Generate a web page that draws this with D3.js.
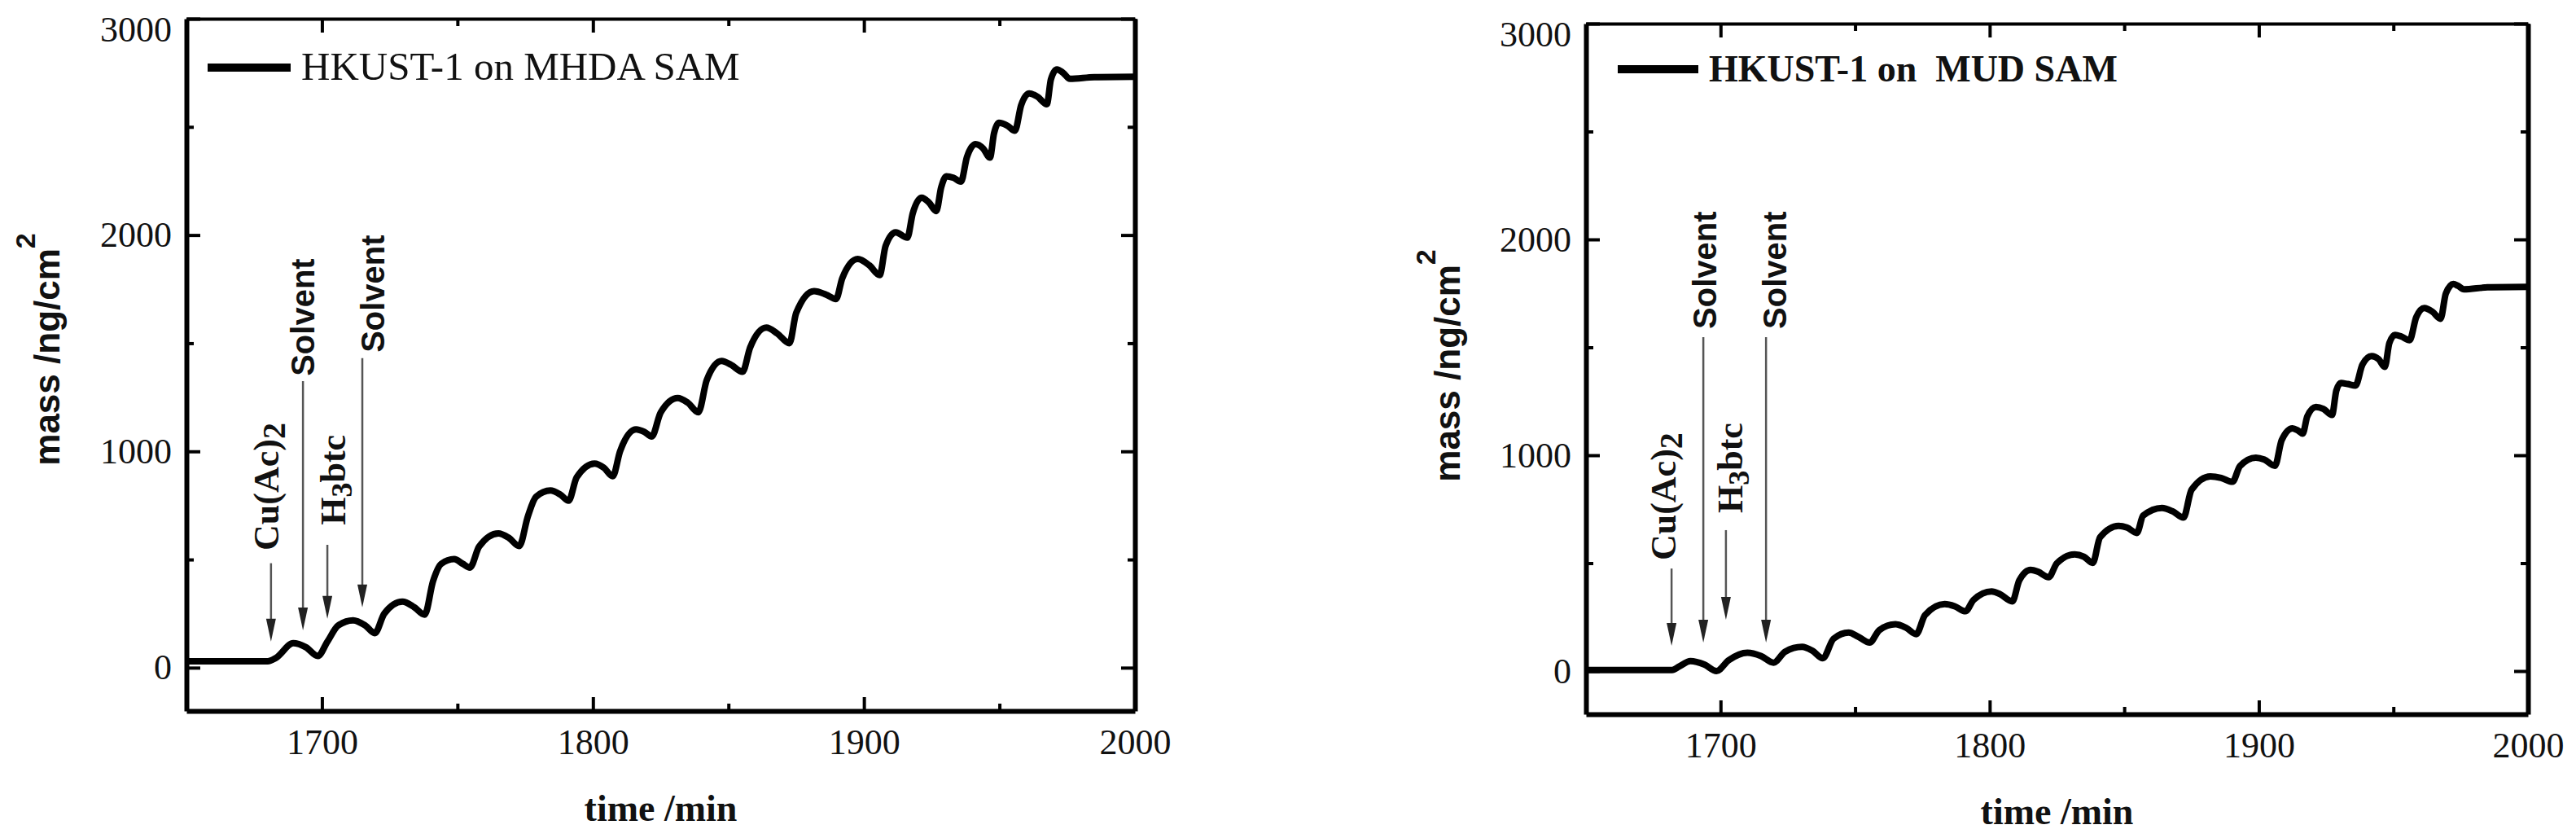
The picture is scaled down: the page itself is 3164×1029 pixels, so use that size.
<!DOCTYPE html>
<html><head><meta charset="utf-8">
<script src="https://cdn.jsdelivr.net/npm/d3@7"></script>
<style>
html,body{margin:0;padding:0;background:#fff;}
svg{display:block;}
text{white-space:pre;}
</style></head>
<body>
<svg id="chart" width="3164" height="1029"></svg>
<script>
// ---------------- data ----------------
const xDomain = [1650, 2000];
const yDomain = [-200, 3000];
const xMajorTicks = [1700, 1800, 1900, 2000];
const xMinorTicks = [1750, 1850, 1950];
const yMajorTicks = [0, 1000, 2000, 3000];
const yMinorTicks = [500, 1500, 2500];

// HKUST-1 on MHDA SAM : [time (min), mass (ng/cm2)]
const mhdaSeries = [
 [1650,30],[1680,30],[1683,45],[1689.4,113],[1694,95],[1698.5,54],[1702,120],[1706,195],[1711.5,219],[1716,195],
 [1719.5,160],[1723,250],[1729.7,305],[1734,280],[1737.9,245],[1741,400],[1744,480],[1748.8,502],[1752,480],[1754.6,463],
 [1758,560],[1765.1,621],[1769,600],[1772.8,562],[1776,700],[1779,790],[1784.3,819],[1788,800],[1791,772],[1794,880],
 [1800.6,944],[1804,925],[1807.3,885],[1810,1000],[1815.9,1102],[1819,1090],[1821.7,1069],[1825,1180],[1831.3,1247],[1835,1225],
 [1838.9,1181],[1842,1330],[1847.5,1418],[1851,1400],[1855.2,1368],[1858,1480],[1864,1572],[1868,1545],[1872.5,1500],[1875,1640],
 [1881.6,1741],[1886,1725],[1889.7,1704],[1892,1800],[1897.7,1889],[1902,1860],[1905.8,1815],[1908,1950],[1911.7,2013],[1916,1988],
 [1918,2100],[1921.3,2173],[1924,2150],[1926.7,2111],[1928.5,2220],[1930.4,2272],[1933,2265],[1935.8,2247],[1938,2360],[1941.2,2420],
 [1944,2400],[1946.5,2358],[1948,2470],[1949.8,2519],[1953,2505],[1955.7,2482],[1958,2600],[1961,2655],[1964,2640],[1967.5,2605],
 [1969,2720],[1971.2,2766],[1973.5,2750],[1976,2722],[1985,2730],[2000,2732]
];
// HKUST-1 on MUD SAM
const mudSeries = [
 [1650,5],[1682,5],[1684.5,20],[1688.8,46],[1694,30],[1698.5,0],[1703,50],[1710,85],[1715,70],[1719.7,39],
 [1724,90],[1730.3,112],[1734,95],[1738,59],[1742,150],[1747.6,178],[1751,160],[1755.4,132],[1759,190],[1765,217],
 [1769,200],[1772.7,171],[1776,260],[1783.3,310],[1787,300],[1791,277],[1794,330],[1800.7,369],[1804,355],[1808.4,323],
 [1811,420],[1815.2,469],[1818,460],[1821.9,435],[1825,500],[1831.6,541],[1835,530],[1838.3,501],[1841,620],[1847.9,673],
 [1851,665],[1854.7,640],[1857,720],[1864,756],[1868,740],[1872,711],[1875,840],[1882,902],[1886,895],[1890.2,877],
 [1893,950],[1898.9,989],[1902,980],[1906,951],[1908.5,1070],[1912.5,1125],[1914.5,1115],[1916.3,1100],[1918,1180],[1921.2,1224],
 [1924,1215],[1927.2,1187],[1928.8,1300],[1930.5,1335],[1933,1330],[1935.9,1323],[1938.5,1420],[1941.9,1459],[1944.5,1445],[1946.8,1409],
 [1948.5,1520],[1950.6,1558],[1953,1550],[1956,1533],[1958.5,1640],[1961.5,1682],[1964.5,1665],[1967.5,1632],[1969.5,1750],[1972.3,1793],
 [1974,1785],[1976.2,1769],[1985,1778],[2000,1780]
];

// arrows: time, top mass, tip mass
const mhdaArrows = [
 {name:"Cu(Ac)2", t:1681.2, top:483, tip:121},
 {name:"Solvent", t:1693.0, top:1325, tip:173},
 {name:"H3btc",  t:1702.0, top:568, tip:226},
 {name:"Solvent", t:1714.9, top:1431, tip:279}
];
const mudArrows = [
 {name:"Cu(Ac)2", t:1681.8, top:475, tip:117},
 {name:"Solvent", t:1693.6, top:1547, tip:132},
 {name:"H3btc",  t:1702.0, top:653, tip:238},
 {name:"Solvent", t:1716.9, top:1547, tip:132}
];
// labels: kind, baseline time, start mass (bottom of rotated text)
const mhdaLabels = [
 {kind:"cu", t:1683.9, m:542},
 {kind:"solvent", t:1697.2, m:1348},
 {kind:"h3btc", t:1708.6, m:659},
 {kind:"solvent", t:1723.0, m:1457}
];
const mudLabels = [
 {kind:"cu", t:1683.3, m:513},
 {kind:"solvent", t:1698.4, m:1585},
 {kind:"h3btc", t:1708.1, m:732},
 {kind:"solvent", t:1724.4, m:1585}
];

const panels = [
 {series:mhdaSeries, arrows:mhdaArrows, labels:mhdaLabels, legend:"HKUST-1 on MHDA SAM", legendBold:false,
  box:{x0:229,x1:1394,y0:23,y1:873}, ytitleX:73, ytitleY:429, xtitleY:1008,
  leg:{lx0:255,lx1:357,ly:83,tx:370,ty:98,fs:49}},
 {series:mudSeries, arrows:mudArrows, labels:mudLabels, legend:"HKUST-1 on  MUD SAM", legendBold:true,
  box:{x0:1948,x1:3105,y0:29,y1:877}, ytitleX:1793, ytitleY:449, xtitleY:1012,
  leg:{lx0:1987,lx1:2086,ly:85,tx:2099,ty:100,fs:46}}
];

// ---------------- drawing ----------------
const svg = d3.select("#chart");
svg.append("rect").attr("width",3164).attr("height",1029).attr("fill","#fff");
const SERIF = "'Liberation Serif','Times New Roman',serif";
const SANS = "'Liberation Sans',Arial,sans-serif";

panels.forEach(p => {
  const b = p.box;
  const x = d3.scaleLinear().domain(xDomain).range([b.x0, b.x1]);
  const y = d3.scaleLinear().domain(yDomain).range([b.y1, b.y0]);
  const g = svg.append("g");

  // data line
  const line = d3.line().x(d => x(d[0])).y(d => y(d[1])).curve(d3.curveMonotoneX);
  g.append("path").datum(p.series).attr("d", line)
    .attr("fill","none").attr("stroke","#000").attr("stroke-width",8).attr("stroke-linejoin","round");

  // axes
  function styleAxis(sel, w){
    sel.select(".domain").attr("stroke","#000").attr("stroke-width",w);
    sel.selectAll(".tick line").attr("stroke","#000").attr("stroke-width",4);
    sel.selectAll("text").attr("font-family",SERIF).attr("font-size",44).attr("fill","#111");
  }
  const ax = [
    {gen:d3.axisBottom(x), tr:`translate(0,${b.y1})`, w:6, lab:true},
    {gen:d3.axisTop(x), tr:`translate(0,${b.y0})`, w:4, lab:false}
  ];
  ax.forEach(a => {
    const gm = g.append("g").attr("transform",a.tr)
      .call(a.gen.tickValues(xMajorTicks).tickSizeInner(-17).tickSizeOuter(0).tickPadding(22)
        .tickFormat(a.lab ? d3.format("d") : ""));
    styleAxis(gm, a.w);
    const gn = g.append("g").attr("transform",a.tr)
      .call(a.gen.tickValues(xMinorTicks).tickSizeInner(-9).tickSizeOuter(0).tickFormat(""));
    gn.select(".domain").remove();
    gn.selectAll(".tick line").attr("stroke","#000").attr("stroke-width",4);
  });
  const ay = [
    {gen:d3.axisLeft(y), tr:`translate(${b.x0},0)`, w:6, lab:true},
    {gen:d3.axisRight(y), tr:`translate(${b.x1},0)`, w:6, lab:false}
  ];
  ay.forEach(a => {
    const gm = g.append("g").attr("transform",a.tr)
      .call(a.gen.tickValues(yMajorTicks).tickSizeInner(-17).tickSizeOuter(0).tickPadding(18)
        .tickFormat(a.lab ? d3.format("d") : ""));
    styleAxis(gm, a.w);
    // keep the top label inside the picture
    gm.selectAll(".tick text").filter(d => d === 3000).attr("dy","0.62em");
    const gn = g.append("g").attr("transform",a.tr)
      .call(a.gen.tickValues(yMinorTicks).tickSizeInner(-9).tickSizeOuter(0).tickFormat(""));
    gn.select(".domain").remove();
    gn.selectAll(".tick line").attr("stroke","#000").attr("stroke-width",4);
  });

  // titles
  const yt = g.append("text").attr("transform",`translate(${p.ytitleX},${p.ytitleY}) rotate(-90)`)
    .attr("text-anchor","middle").attr("font-family",SANS).attr("font-weight","bold").attr("font-size",44).attr("fill","#111");
  yt.append("tspan").text("mass /ng/cm");
  yt.append("tspan").attr("font-size",34).attr("dy",-30).text("2");
  g.append("text").attr("x",(b.x0+b.x1)/2).attr("y",p.xtitleY).attr("text-anchor","middle")
    .attr("font-family",SERIF).attr("font-weight","bold").attr("font-size",46).attr("fill","#111").text("time /min");

  // legend
  const L = p.leg;
  g.append("line").attr("x1",L.lx0).attr("x2",L.lx1).attr("y1",L.ly).attr("y2",L.ly)
    .attr("stroke","#000").attr("stroke-width",10);
  g.append("text").attr("x",L.tx).attr("y",L.ty).attr("font-family",SERIF).attr("font-size",L.fs)
    .attr("font-weight",p.legendBold?"bold":"normal").attr("fill","#111").text(p.legend);

  // arrows
  p.arrows.forEach(a => {
    const ax0 = x(a.t), yTop = y(a.top), yTip = y(a.tip);
    g.append("line").attr("x1",ax0).attr("x2",ax0).attr("y1",yTop).attr("y2",yTip-10)
      .attr("stroke","#555").attr("stroke-width",2.5);
    g.append("path").attr("d",`M${ax0},${yTip} L${ax0-6},${yTip-28} L${ax0+6},${yTip-28} Z`).attr("fill","#222");
  });

  // annotation labels
  p.labels.forEach(l => {
    const t = g.append("text").attr("transform",`translate(${x(l.t)},${y(l.m)}) rotate(-90)`).attr("fill","#111");
    if (l.kind === "solvent") {
      t.attr("font-family",SANS).attr("font-weight","bold").attr("font-size",40).text("Solvent");
    } else if (l.kind === "cu") {
      t.attr("font-family",SERIF).attr("font-weight","bold").attr("font-size",44);
      t.append("tspan").text("Cu(Ac)");
      t.append("tspan").attr("dy",8).attr("font-size",40).text("2");
    } else {
      t.attr("font-family",SERIF).attr("font-weight","bold").attr("font-size",44);
      t.append("tspan").text("H");
      t.append("tspan").attr("dy",8).attr("font-size",36).text("3");
      t.append("tspan").attr("dy",-8).text("btc");
    }
  });
});
</script>
</body></html>
